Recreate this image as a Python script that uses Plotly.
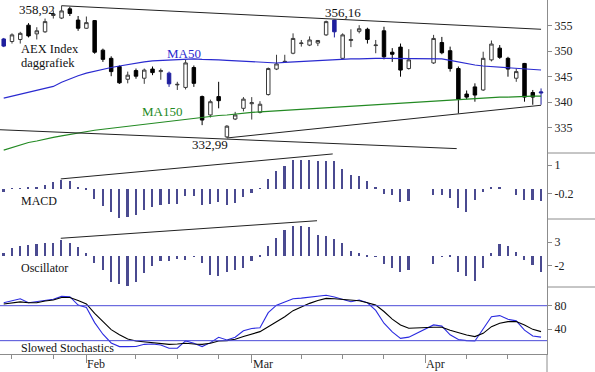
import pandas as pd
import plotly.graph_objects as go

# ---------------- data ----------------
dates = pd.bdate_range("2013-01-18", "2013-04-19")          # weekday slots
holidays = ["2013-03-29", "2013-04-01"]

open_ = [352.4, 351.9, 352.3, 355.1, 353.4, 353.8, 357.0, 356.5, 358.3, 356.1,
         354.5, 356.0, 350.2, 348.6, 347.0, 344.5, 346.2, 344.7, 346.5, 346.0,
         345.7, 343.4, 342.9, 346.8, 341.1, 337.5, 341.1, 333.2, 336.7, 338.8,
         339.7, 338.0, 341.5, 346.5, 347.9, 349.6, 351.5, 351.2, 351.6, 353.2,
         356.1, 348.6, 352.1, 353.9, 354.3, 351.1, 354.0, 349.8, 350.8, 346.6,
         None, None, 347.7, 351.7, 350.1, 346.6, 341.6, 343.0, 342.4, 348.3,
         350.6, 348.6, 344.7, 347.6, 341.9, 341.8]
high = [352.6, 353.5, 353.8, 355.5, 354.7, 356.4, 358.0, 358.92, 358.7, 356.9,
        356.8, 356.1, 350.5, 349.0, 347.2, 346.0, 346.6, 346.6, 347.0, 346.6,
        346.0, 344.0, 348.3, 347.2, 341.3, 340.5, 344.0, 335.5, 338.1, 341.0,
        341.0, 340.2, 346.8, 349.3, 349.3, 353.5, 352.2, 352.9, 352.2, 356.0,
        356.16, 353.5, 354.3, 355.1, 354.6, 352.2, 354.8, 350.6, 351.5, 350.4,
        None, None, 353.2, 352.8, 350.9, 347.0, 342.3, 343.7, 349.9, 352.1,
        351.2, 348.9, 346.6, 347.7, 342.4, 342.7]
low = [350.8, 351.5, 351.5, 352.7, 352.3, 353.6, 356.4, 356.3, 356.9, 354.0,
       354.4, 349.5, 347.9, 345.1, 343.6, 343.7, 344.6, 343.6, 345.3, 344.4,
       343.0, 342.4, 342.5, 343.0, 335.5, 337.0, 338.8, 332.99, 336.5, 338.2,
       336.6, 337.8, 341.3, 346.3, 347.8, 349.4, 350.9, 351.0, 351.0, 353.0,
       352.7, 348.4, 350.8, 353.5, 351.5, 349.6, 348.4, 347.9, 345.0, 346.4,
       None, None, 347.5, 349.4, 346.0, 337.8, 340.6, 340.1, 342.2, 348.0,
       348.5, 345.0, 344.0, 340.1, 339.5, 339.5]
close = [351.0, 353.2, 353.5, 353.0, 354.0, 355.8, 357.3, 357.9, 357.4, 354.5,
         355.6, 349.8, 348.4, 346.0, 343.8, 345.3, 345.1, 346.3, 345.8, 346.2,
         343.6, 343.5, 347.7, 343.7, 336.5, 340.1, 340.3, 335.3, 337.5, 340.6,
         339.9, 339.6, 346.6, 347.5, 348.0, 352.5, 351.6, 352.2, 352.1, 355.8,
         353.8, 353.2, 352.3, 354.4, 352.3, 351.2, 348.9, 349.4, 346.3, 348.3,
         None, None, 352.5, 349.7, 346.6, 340.6, 341.0, 341.4, 348.6, 351.4,
         348.8, 346.5, 346.0, 341.0, 341.0, 342.0]
blue_days = [0, 20, 40, 65]

ma50 = [340.8, 341.2, 341.6, 342.0, 342.4, 342.7, 343.1, 343.9, 344.6, 345.2,
        345.7, 346.1, 346.5, 346.8, 347.1, 347.4, 347.7, 347.9, 348.1, 348.2,
        348.3, 348.4, 348.5, 348.5, 348.4, 348.4, 348.3, 348.2, 348.1, 348.0,
        347.9, 347.8, 347.7, 347.7, 347.8, 347.9, 348.0, 348.1, 348.2, 348.3,
        348.4, 348.4, 348.5, 348.5, 348.6, 348.6, 348.6, 348.6, 348.5, 348.5,
        None, None, 348.6, 348.5, 348.2, 347.9, 347.5, 347.3, 347.1, 347.0,
        346.9, 346.8, 346.6, 346.5, 346.4, 346.3]
ma150 = [330.6, 331.1, 331.5, 332.1, 332.4, 332.8, 333.1, 333.4, 333.7, 334.0,
         334.2, 334.5, 334.7, 334.9, 335.1, 335.3, 335.5, 335.7, 335.9, 336.1,
         336.3, 336.4, 336.6, 336.8, 337.0, 337.2, 337.4, 337.5, 337.7, 337.8,
         338.0, 338.1, 338.2, 338.4, 338.5, 338.6, 338.7, 338.8, 338.9, 339.0,
         339.1, 339.2, 339.3, 339.4, 339.5, 339.6, 339.7, 339.8, 339.9, 340.0,
         None, None, 340.3, 340.4, 340.5, 340.6, 340.7, 340.8, 340.8, 340.9,
         341.0, 341.0, 341.1, 341.1, 341.2, 341.2]

macd = [-0.15, 0.02, 0.02, 0.03, 0.05, 0.17, 0.27, 0.38, 0.31, 0.03,
        -0.03, -0.44, -0.75, -1.0, -1.25, -1.2, -1.1, -0.92, -0.78, -0.68,
        -0.64, -0.64, -0.33, -0.33, -0.68, -0.65, -0.58, -0.68, -0.6, -0.35,
        -0.18, 0.02, 0.4, 0.73, 0.95, 1.2, 1.2, 1.2, 1.15, 1.19,
        1.15, 0.82, 0.58, 0.53, 0.34, 0.08, -0.23, -0.27, -0.55, -0.53,
        None, None, -0.27, -0.27, -0.41, -0.84, -0.98, -0.48, -0.13, 0.03,
        0.03, 0.0, -0.27, -0.48, -0.48, -0.53]
osc = [0.7, 1.7, 2.2, 2.4, 2.6, 2.8, 2.9, 3.5, 2.9, 1.9,
       0.6, -1.35, -2.9, -5.4, -5.9, -6.3, -5.4, -3.6, -2.1, -0.9,
       -0.9, -0.6, -0.8, -0.1, -1.5, -4.0, -4.2, -3.3, -2.9, -2.6,
       -0.9, 0.1, 2.1, 4.0, 5.6, 6.4, 6.5, 6.2, 4.6, 4.3,
       3.8, 2.8, 1.2, 0.8, 0.1, 0.05, -1.6, -2.4, -3.4, -2.9,
       None, None, -1.6, -0.1, 0.1, -3.3, -4.3, -5.2, -2.6, 0.6,
       2.6, 2.1, 1.0, -0.8, -1.85, -3.3]
stoch_k = [85, 89, 92, 85, 87, 89.5, 91, 96, 95.5, 81,
           77, 51, 31, 16, 9.8, 9.8, 10, 13.7, 14.3, 12.6,
           7, 7, 19.5, 15.5, 9.8, 16.6, 25.8, 21.3, 25.8, 37,
           41, 42, 68, 81, 87, 92, 93, 95, 96.5, 98,
           95, 91, 86.8, 89.7, 85, 72, 50, 35, 24, 26,
           None, None, 47, 45, 30, 22, 20, 19.5, 41, 61,
           63, 56.6, 54, 38, 28, 26]
stoch_d = [83, 85, 86.5, 85, 85, 88, 89.7, 94, 94, 89,
           83, 67, 53, 39, 30, 23, 19.5, 18.3, 17.2, 15.5,
           13.7, 14.3, 15.5, 14.3, 13.7, 15.5, 19.5, 20.1, 22.4, 27,
           31.5, 35.5, 44, 52.7, 61, 71.5, 78, 84, 89, 92.5,
           92, 91, 90.5, 88.6, 85, 81, 70, 57, 47, 41.2,
           None, None, 43, 43, 38, 33.7, 29.7, 27, 32.6, 44,
           49.8, 52.7, 52.7, 47, 39.4, 35.5]
stoch_levels = [80, 20]

# trendlines: (day index, value) endpoints
trend_top = ([7, 65], [358.92, 354.3])
trend_down = ([-0.45, 54.8], [334.6, 330.9])
trend_up = ([27, 65], [332.99, 339.4])
trend_macd = ([6.9, 39.8], [0.41, 1.47])
trend_osc = ([6.9, 37.9], [3.85, 7.6])

month_labels = ["Feb", "Mar", "Apr"]
price_ticks = [335, 340, 345, 350, 355]
macd_ticks, macd_ticktext = [1, -0.2], ["1", "-0.2"]
osc_ticks, osc_ticktext = [3, -2], ["3", "-2"]
stoch_ticks = [80, 40]

for arr in (open_, high, low, close, ma50, ma150, macd, osc, stoch_k, stoch_d):
    assert len(arr) == len(dates), len(arr)

# ---------------- positions ----------------
idx = list(range(len(dates)))
month_pos = [i for i in idx if i > 0 and dates[i].month != dates[i - 1].month]
week_pos = [i for i in idx if dates[i].weekday() == 0 and i not in month_pos
            and not any(0 < i - m < 5 for m in month_pos)]

def sel(arr, keep):
    return [v if keep(i) else None for i, v in enumerate(arr)]

norm = lambda i: i not in blue_days
blue = lambda i: i in blue_days

FONT = "Liberation Serif"
GRAY = "#8c8c8c"
fig = go.Figure()

fig.add_trace(go.Candlestick(
    x=idx, open=sel(open_, norm), high=sel(high, norm), low=sel(low, norm), close=sel(close, norm),
    increasing=dict(line=dict(color="#3a3a3a", width=1), fillcolor="white"),
    decreasing=dict(line=dict(color="black", width=1), fillcolor="black"),
    xaxis="x", yaxis="y", hoverinfo="skip"))
fig.add_trace(go.Candlestick(
    x=idx, open=sel(open_, blue), high=sel(high, blue), low=sel(low, blue), close=sel(close, blue),
    increasing=dict(line=dict(color="#1f1f9e", width=1), fillcolor="#1f1f9e"),
    decreasing=dict(line=dict(color="#1f1f9e", width=1), fillcolor="#1f1f9e"),
    xaxis="x", yaxis="y", hoverinfo="skip"))

fig.add_trace(go.Scatter(x=idx, y=ma50, mode="lines", connectgaps=True,
                         line=dict(color="#2a2ad0", width=1.1), yaxis="y"))
fig.add_trace(go.Scatter(x=idx, y=ma150, mode="lines", connectgaps=True,
                         line=dict(color="#238a23", width=1.1), yaxis="y"))
for tx, ty in (trend_top, trend_down, trend_up):
    fig.add_trace(go.Scatter(x=tx, y=ty, mode="lines", line=dict(color="#222", width=1), yaxis="y"))

fig.add_trace(go.Bar(x=idx, y=macd, width=0.2, marker=dict(color="#4a4a90", line=dict(width=0)), yaxis="y2"))
fig.add_trace(go.Scatter(x=trend_macd[0], y=trend_macd[1], mode="lines",
                         line=dict(color="#222", width=1), yaxis="y2"))
fig.add_trace(go.Bar(x=idx, y=osc, width=0.2, marker=dict(color="#4a4a90", line=dict(width=0)), yaxis="y3"))
fig.add_trace(go.Scatter(x=trend_osc[0], y=trend_osc[1], mode="lines",
                         line=dict(color="#222", width=1), yaxis="y3"))

fig.add_trace(go.Scatter(x=idx, y=stoch_k, mode="lines", connectgaps=True,
                         line=dict(color="#2b2be0", width=1.1), yaxis="y4"))
fig.add_trace(go.Scatter(x=idx, y=stoch_d, mode="lines", connectgaps=True,
                         line=dict(color="black", width=1.1), yaxis="y4"))
for lv in stoch_levels:
    fig.add_shape(type="line", xref="paper", x0=0, x1=1, yref="y4", y0=lv, y1=lv,
                  line=dict(color="#4b4bd8", width=1))

# layout geometry (pixels of a 547 x 354 plot area)
PW, PH = 547.0, 354.0
bounds = [153, 219, 287]
def py(p):
    return 1 - p / PH

def yax(dom, rng, tv, tt=None):
    d = dict(domain=dom, range=rng, side="right", anchor="x", showgrid=False, zeroline=False,
             showline=True, linecolor=GRAY, linewidth=1, ticks="outside", ticklen=4,
             tickcolor=GRAY, tickmode="array", tickvals=tv,
             tickfont=dict(family=FONT, size=12, color="#222"))
    if tt is not None:
        d["ticktext"] = tt
    return d

fig.update_layout(
    width=595, height=372, margin=dict(l=0, r=48, t=0, b=18),
    paper_bgcolor="white", plot_bgcolor="white", showlegend=False, boxgap=0.4,
    bargap=0, hovermode=False,
    xaxis=dict(anchor="y4", range=[-0.45, 65.72], showgrid=False, zeroline=False, showline=True,
               linecolor=GRAY, linewidth=1, rangeslider=dict(visible=False),
               tickmode="array", tickvals=month_pos, ticktext=[""] * len(month_pos),
               ticks="outside", ticklen=8, tickcolor=GRAY,
               minor=dict(tickmode="array", tickvals=week_pos, ticks="outside",
                          ticklen=4, tickcolor=GRAY)),
    yaxis=yax([py(bounds[0]), 1], [330.04, 360.04], price_ticks),
    yaxis2=yax([py(bounds[1]), py(bounds[0])], [-1.29, 1.51], macd_ticks, macd_ticktext),
    yaxis3=yax([py(bounds[2]), py(bounds[1])], [-6.56, 7.97], osc_ticks, osc_ticktext),
    yaxis4=yax([0, py(bounds[2])], [-2.9, 112.1], stoch_ticks),
)

# month labels, left-aligned at their month tick
for pos, lab in zip(month_pos, month_labels):
    fig.add_annotation(text=lab, x=pos, xref="x", xanchor="left", xshift=-1,
                       y=py(364), yref="paper", yanchor="middle", showarrow=False,
                       font=dict(family=FONT, size=12, color="#222"))

for b in bounds:
    fig.add_shape(type="line", xref="paper", yref="paper", x0=1, x1=595 / PW, y0=py(b), y1=py(b),
                  line=dict(color=GRAY, width=1))
fig.add_shape(type="line", xref="paper", yref="paper", x0=1, x1=1, y0=0, y1=-18 / PH,
              line=dict(color=GRAY, width=1))

def ann(text, x, y, color="#111", size=12, xanchor="left"):
    fig.add_annotation(text=text, xref="paper", yref="paper", x=x / PW, y=py(y),
                       xanchor=xanchor, yanchor="middle", showarrow=False,
                       font=dict(family=FONT, size=size, color=color))

ann("358,92", 37, 10, xanchor="center", size=13)
ann("356,16", 342.5, 12, xanchor="center", size=13)
ann("332,99", 210, 144, xanchor="center", size=13)
ann("AEX Index", 19, 49.5, size=12.5)
ann("daggrafiek", 19, 63, size=12.5)
ann("MA50", 184, 53, color="#2a2ad0", xanchor="center", size=13)
ann("MA150", 162, 112, color="#238a23", xanchor="center", size=13)
ann("MACD", 19, 201)
ann("Oscillator", 19, 268)
ann("Slowed Stochastics", 19, 347.5)

fig.write_html("out.html", config={"displayModeBar": False},
               post_script="document.body.style.margin='0';document.body.style.padding='0';"
                           "document.body.style.overflow='hidden';")
